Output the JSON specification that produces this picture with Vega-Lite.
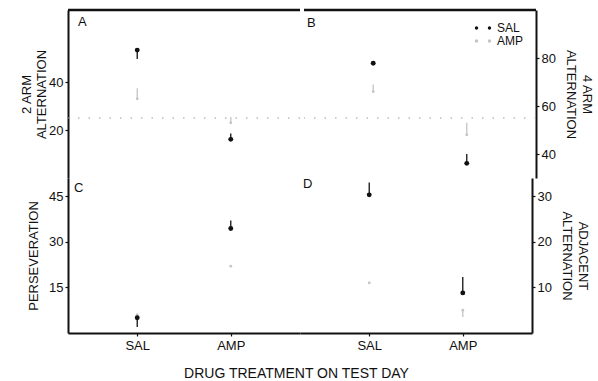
{
  "$schema": "https://vega.github.io/schema/vega-lite/v6.json",
  "padding": {"left": 20, "top": 8, "right": 4, "bottom": 0},
  "background": "white",
  "config": {
    "view": {"stroke": null},
    "font": "Liberation Sans",
    "axis": {
      "domainColor": "#111111", "domainWidth": 2, "tickColor": "#111111", "tickSize": 3, "tickWidth": 1.2,
      "labelColor": "#111111", "labelFontSize": 13, "labelFont": "Liberation Sans", "labelPadding": 2,
      "titleColor": "#111111", "titleFontSize": 13, "titleFont": "Liberation Sans", "titleFontWeight": "normal",
      "grid": false
    },
    "title": {"fontWeight": "normal", "fontSize": 13, "color": "#111111", "font": "Liberation Sans"}
  },
  "datasets": {
    "pts": [
      {"panel": "A", "group": "AMP", "test": "SAL", "mean": 33, "end": 37.4},
      {"panel": "A", "group": "AMP", "test": "AMP", "mean": 23, "end": 25.4},
      {"panel": "A", "group": "SAL", "test": "SAL", "mean": 53.3, "end": 49.6},
      {"panel": "A", "group": "SAL", "test": "AMP", "mean": 16.1, "end": 18.5},
      {"panel": "A", "group": "chance", "mean": 25},
      {"panel": "A", "group": "frame", "mean": 70},
      {"panel": "B", "group": "AMP", "test": "SAL", "mean": 66, "end": 69},
      {"panel": "B", "group": "AMP", "test": "AMP", "mean": 48, "end": 53},
      {"panel": "B", "group": "SAL", "test": "SAL", "mean": 77.8, "end": 77.8},
      {"panel": "B", "group": "SAL", "test": "AMP", "mean": 36.1, "end": 40},
      {"panel": "B", "group": "chance", "mean": 55},
      {"panel": "B", "group": "frame", "mean": 100},
      {"panel": "C", "group": "AMP", "test": "SAL", "mean": 6, "end": 6},
      {"panel": "C", "group": "AMP", "test": "AMP", "mean": 22, "end": 22},
      {"panel": "C", "group": "SAL", "test": "SAL", "mean": 5, "end": 2},
      {"panel": "C", "group": "SAL", "test": "AMP", "mean": 34.4, "end": 37},
      {"panel": "D", "group": "AMP", "test": "SAL", "mean": 11, "end": 11},
      {"panel": "D", "group": "AMP", "test": "AMP", "mean": 5, "end": 3.5},
      {"panel": "D", "group": "SAL", "test": "SAL", "mean": 30.3, "end": 33},
      {"panel": "D", "group": "SAL", "test": "AMP", "mean": 8.8, "end": 12.3}
    ]
  },
  "title": {"text": "DRUG TREATMENT ON TEST DAY", "orient": "bottom", "anchor": "middle", "frame": "bounds", "offset": 15, "fontSize": 14, "dx": -10},
  "spacing": 0,
  "resolve": {"scale": {"color": "independent"}, "legend": {"color": "independent"}},
  "vconcat": [
    {
      "hconcat": [
        {
          "width": 232, "height": 168,
          "title": {"text": "A", "anchor": "start", "frame": "group", "offset": -20, "dx": 10},
          "data": {"name": "pts"},
          "transform": [{"filter": "datum.panel === 'A'"}],
          "encoding": {
            "y": {"field": "mean", "type": "quantitative", "scale": {"domain": [0, 70], "nice": false}, "axis": {"orient": "left", "values": [20, 40], "title": ["2 ARM", "ALTERNATION"], "titlePadding": 0}}
          },
          "layer": [
            {
              "transform": [{"filter": "datum.group === 'chance'"}],
              "mark": {"type": "rule", "strokeDash": [1.5, 9], "strokeWidth": 1.2, "color": "#9a9a9a"}
            },
            {
              "transform": [{"filter": "datum.group === 'frame'"}],
              "mark": {"type": "rule", "strokeWidth": 2.5, "color": "#111111"}
            },
            {
              "transform": [{"filter": "datum.group === 'SAL' || datum.group === 'AMP'"}],
              "encoding": {
                "x": {"field": "test", "type": "nominal", "sort": null, "scale": {"type": "point", "domain": ["SAL", "AMP"], "padding": 0.74}, "axis": null},
                "color": {"field": "group", "type": "nominal", "scale": {"domain": ["SAL", "AMP"], "range": ["#111111", "#c4c4c4"]}, "legend": null}
              },
              "layer": [
                {"mark": {"type": "rule", "strokeWidth": 1.3}, "encoding": {"y2": {"field": "end"}}},
                {"transform": [{"filter": "datum.group === 'AMP'"}], "mark": {"type": "point", "filled": true, "size": 8, "opacity": 1}},
                {"transform": [{"filter": "datum.group === 'SAL'"}], "mark": {"type": "point", "filled": true, "size": 24, "opacity": 1}}
              ]
            }
          ]
        },
        {
          "width": 232, "height": 168,
          "title": {"text": "B", "anchor": "start", "frame": "group", "offset": -21, "dx": 3},
          "data": {"name": "pts"},
          "transform": [{"filter": "datum.panel === 'B'"}],
          "encoding": {
            "y": {"field": "mean", "type": "quantitative", "scale": {"domain": [30, 100], "nice": false, "zero": false}, "axis": {"orient": "right", "values": [40, 60, 80], "title": ["4 ARM", "ALTERNATION"], "titlePadding": 8, "titleLineHeight": 16}}
          },
          "layer": [
            {
              "transform": [{"filter": "datum.group === 'chance'"}],
              "mark": {"type": "rule", "strokeDash": [1.5, 9], "strokeWidth": 1.2, "color": "#9a9a9a"}
            },
            {
              "transform": [{"filter": "datum.group === 'frame'"}],
              "mark": {"type": "rule", "strokeWidth": 2.5, "color": "#111111"}
            },
            {
              "transform": [{"filter": "datum.group === 'SAL' || datum.group === 'AMP'"}],
              "encoding": {
                "x": {"field": "test", "type": "nominal", "sort": null, "scale": {"type": "point", "domain": ["SAL", "AMP"], "padding": 0.74}, "axis": null},
                "color": {"field": "group", "type": "nominal", "scale": {"domain": ["SAL", "AMP"], "range": ["#111111", "#c4c4c4"]},
                  "legend": {"orient": "none", "legendX": 173, "legendY": 12, "title": null, "labelFontSize": 12, "labelColor": "#111111", "labelFont": "Liberation Sans",
                    "symbolType": "M-1.48,0a0.3,0.3 0 1,0 0.6,0a0.3,0.3 0 1,0 -0.6,0M0.88,0a0.3,0.3 0 1,0 0.6,0a0.3,0.3 0 1,0 -0.6,0",
                    "symbolSize": 121, "symbolStrokeWidth": 0, "rowPadding": 1, "padding": 0, "labelOffset": 8}}
              },
              "layer": [
                {"mark": {"type": "rule", "strokeWidth": 1.3}, "encoding": {"y2": {"field": "end"}}},
                {"transform": [{"filter": "datum.group === 'AMP'"}], "mark": {"type": "point", "filled": true, "size": 8, "opacity": 1}},
                {"transform": [{"filter": "datum.group === 'SAL'"}], "mark": {"type": "point", "filled": true, "size": 24, "opacity": 1}}
              ]
            }
          ]
        }
      ],
      "spacing": 0,
      "resolve": {"scale": {"color": "independent"}, "legend": {"color": "independent"}}
    },
    {
      "hconcat": [
        {
          "width": 232, "height": 155,
          "title": {"text": "C", "anchor": "start", "frame": "group", "offset": -17, "dx": 6},
          "data": {"name": "pts"},
          "transform": [{"filter": "datum.panel === 'C'"}],
          "encoding": {
            "x": {"field": "test", "type": "nominal", "sort": null, "scale": {"type": "point", "domain": ["SAL", "AMP"], "padding": 0.74}, "axis": {"orient": "bottom", "title": null, "labelAngle": 0, "labelPadding": 3}},
            "y": {"field": "mean", "type": "quantitative", "scale": {"domain": [0, 51], "nice": false}, "axis": {"orient": "left", "values": [15, 30, 45], "title": "PERSEVERATION", "titlePadding": 8}},
            "color": {"field": "group", "type": "nominal", "scale": {"domain": ["SAL", "AMP"], "range": ["#111111", "#c4c4c4"]}, "legend": null}
          },
          "layer": [
            {"mark": {"type": "rule", "strokeWidth": 1.3}, "encoding": {"y2": {"field": "end"}}},
            {"transform": [{"filter": "datum.group === 'AMP'"}], "mark": {"type": "point", "filled": true, "size": 8, "opacity": 1}},
            {"transform": [{"filter": "datum.group === 'SAL'"}], "mark": {"type": "point", "filled": true, "size": 24, "opacity": 1}}
          ]
        },
        {
          "width": 232, "height": 155,
          "title": {"text": "D", "anchor": "start", "frame": "group", "offset": -13, "dx": 3},
          "data": {"name": "pts"},
          "transform": [{"filter": "datum.panel === 'D'"}],
          "encoding": {
            "x": {"field": "test", "type": "nominal", "sort": null, "scale": {"type": "point", "domain": ["SAL", "AMP"], "padding": 0.74}, "axis": {"orient": "bottom", "title": null, "labelAngle": 0, "labelPadding": 3}},
            "y": {"field": "mean", "type": "quantitative", "scale": {"domain": [0, 34], "nice": false}, "axis": {"orient": "right", "values": [10, 20, 30], "title": ["ADJACENT", "ALTERNATION"], "titlePadding": 8, "titleLineHeight": 16}},
            "color": {"field": "group", "type": "nominal", "scale": {"domain": ["SAL", "AMP"], "range": ["#111111", "#c4c4c4"]}, "legend": null}
          },
          "layer": [
            {"mark": {"type": "rule", "strokeWidth": 1.3}, "encoding": {"y2": {"field": "end"}}},
            {"transform": [{"filter": "datum.group === 'AMP'"}], "mark": {"type": "point", "filled": true, "size": 8, "opacity": 1}},
            {"transform": [{"filter": "datum.group === 'SAL'"}], "mark": {"type": "point", "filled": true, "size": 24, "opacity": 1}}
          ]
        }
      ],
      "spacing": 0,
      "resolve": {"scale": {"color": "independent"}, "legend": {"color": "independent"}}
    }
  ]
}
